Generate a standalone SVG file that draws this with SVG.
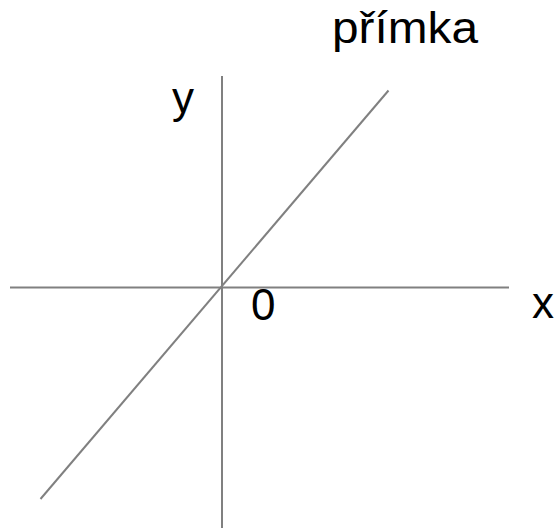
<svg xmlns="http://www.w3.org/2000/svg" width="560" height="528" viewBox="0 0 560 528">
<style>
.ax{stroke:#808080;stroke-width:2;fill:none}
.t{font-family:"Liberation Sans",Arial,sans-serif;fill:#000;font-size:44px}
</style>
<rect width="560" height="528" fill="#fff"/>
<g id="connectors">
<line class="ax" x1="10" y1="287.5" x2="509" y2="287.5"/>
<line class="ax" x1="222" y1="76" x2="222" y2="528"/>
<line class="ax" x1="40.5" y1="499" x2="388.5" y2="90.5"/>
</g>
<g id="label-primka"><text class="t" x="332" y="43" style="font-size:45px" textLength="146" lengthAdjust="spacingAndGlyphs">přímka</text></g>
<g id="label-y"><text class="t" x="172" y="113">y</text></g>
<g id="label-0"><text class="t" x="251" y="320">0</text></g>
<g id="label-x"><text class="t" x="532" y="318">x</text></g>
</svg>
